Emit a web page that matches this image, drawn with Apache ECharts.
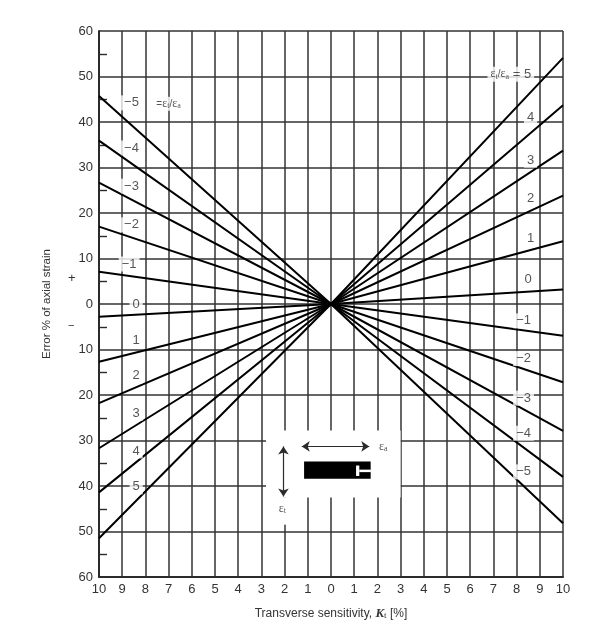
<!DOCTYPE html>
<html>
<head>
<meta charset="utf-8">
<style>html,body{margin:0;padding:0;background:#fff}#c{width:609px;height:621px;filter:blur(0.45px)}</style>
<script src="https://cdn.jsdelivr.net/npm/echarts@6/dist/echarts.min.js"></script>
</head>
<body>
<div id="c"></div>
<script>
// Strain ratio of each line, and the error read at K_t = 10 on each side.
const ratios = ['5', '4', '3', '2', '1', '0', '-1', '-2', '-3', '-4', '-5'];
const errorAtLeft = [-51.5, -41.4, -31.7, -21.8, -12.7, -2.8, 7.1, 17, 26.7, 35.9, 45.7];
const errorAtRight = [54.1, 43.7, 33.7, 23.8, 13.8, 3.2, -7, -17.2, -27.9, -38, -48.2];
const sensitivity = [-10, 0, 10];

// Ratio labels written along each side of the chart: [x, y, text]
const leftLabels = [
  [-8.6, 44.2, '−5'], [-8.6, 34.3, '−4'], [-8.6, 25.9, '−3'], [-8.6, 17.4, '−2'], [-8.7, 8.8, '−1'],
  [-8.4, -0.2, '0'], [-8.4, -8.1, '1'], [-8.4, -15.8, '2'], [-8.4, -24, '3'], [-8.4, -32.3, '4'], [-8.4, -40.2, '5']
];
const rightLabels = [
  [8.6, 40.9, '4'], [8.6, 31.6, '3'], [8.6, 23.3, '2'], [8.6, 14.5, '1'], [8.5, 5.3, '0'],
  [8.3, -3.7, '−1'], [8.3, -12, '−2'], [8.3, -20.7, '−3'], [8.3, -28.4, '−4'], [8.3, -36.9, '−5']
];
const eps = (s) => `{e|ε}{sub|${s}}`;
const ratioText = `${eps('t')}{small|/}${eps('a')}`;
const richLabels = [
  [-7.0, 44, `{small|=}${ratioText}`],
  [7.75, 50.5, `${ratioText}{n| = 5}`],
  [2.25, -31.5, eps('a')],
  [-2.1, -45.1, eps('t')]
];

// Inset: areas cleared of grid lines, gauge body, gauge slot: [x0, x1, y0, y1]
const clearedAreas = [[-2.8, 3.0, -27.8, -42.5], [-2.3, -1.8, -42.5, -48.5]];
const gaugeBody = [[-1.16, 1.71, -34.6, -38.4]];
const gaugeSlot = [[1.08, 1.22, -35.5, -37.8], [1.22, 1.72, -36.4, -36.95]];
const arrowA = [[-1.26, -31.3], [1.65, -31.3]];
const arrowT = [[-2.05, -31.3], [-2.05, -42.3]];

const ink = '#2b2b2b';
const rectSeries = (rects, color, z) => ({
  type: 'custom', z, silent: true, clip: false,
  data: rects,
  encode: { x: [0, 1], y: [2, 3] },
  renderItem: (params, api) => {
    const a = api.coord([api.value(0), api.value(2)]);
    const b = api.coord([api.value(1), api.value(3)]);
    return { type: 'rect', shape: { x: a[0], y: a[1], width: b[0] - a[0], height: b[1] - a[1] }, style: { fill: color } };
  }
});
const labelSeries = (items, fontSize, z) => ({
  type: 'scatter', z, symbolSize: 0, silent: true,
  data: items.map(d => ({ value: [d[0], d[1]], name: d[2] })),
  label: {
    show: true, position: 'inside', formatter: p => p.name,
    color: ink, fontSize, fontFamily: 'Liberation Sans', backgroundColor: '#fff', padding: [1, 3],
    rich: {
      e: { fontFamily: 'Liberation Serif', fontSize: 12, color: ink },
      sub: { fontFamily: 'Liberation Serif', fontSize: 8, color: ink, verticalAlign: 'bottom', padding: [4, 0, 0, 0] },
      small: { fontSize: 10, color: ink },
      n: { fontSize: 13, color: ink }
    }
  }
});

const chart = echarts.init(document.getElementById('c'));
chart.setOption({
  animation: false,
  backgroundColor: '#fff',
  grid: { left: 99, right: 46, top: 31, bottom: 44, outerBoundsMode: 'none' },
  xAxis: {
    type: 'value', min: -10, max: 10, interval: 1,
    name: '{a|Transverse sensitivity, }{k|K}{t|t}{a| [%]}',
    nameLocation: 'middle', nameGap: 30,
    nameTextStyle: { rich: {
      a: { fontFamily: 'Liberation Sans', fontSize: 12, color: '#333' },
      k: { fontFamily: 'Liberation Serif', fontStyle: 'italic', fontWeight: 'bold', fontSize: 13, color: '#333' },
      t: { fontFamily: 'Liberation Serif', fontSize: 9, color: '#333', verticalAlign: 'bottom', padding: [4, 0, 0, 0] }
    } },
    axisLine: { show: true, onZero: false, lineStyle: { color: ink, width: 2 } },
    axisTick: { show: false },
    axisLabel: { margin: 6, fontSize: 13, color: '#333', fontFamily: 'Liberation Sans', formatter: v => String(Math.abs(v)), hideOverlap: false },
    splitLine: { show: true, lineStyle: { color: '#333', width: 1.5 } }
  },
  yAxis: {
    type: 'value', min: -60, max: 60, interval: 10,
    name: 'Error % of axial strain',
    nameLocation: 'middle', nameGap: 46,
    nameTextStyle: { fontFamily: 'Liberation Sans', fontSize: 11.5, color: '#333' },
    axisLine: { show: true, onZero: false, lineStyle: { color: ink, width: 2 } },
    axisTick: { show: true, inside: true, length: 1, lineStyle: { color: ink } },
    minorTick: { show: true, splitNumber: 2, length: 8, lineStyle: { color: ink, width: 1.4 } },
    axisLabel: { margin: 6, fontSize: 13, color: '#333', fontFamily: 'Liberation Sans', formatter: v => String(Math.abs(v)), hideOverlap: false },
    splitLine: { show: true, lineStyle: { color: '#333', width: 1.5 } }
  },
  graphic: [
    { type: 'text', left: 68, top: 272, style: { text: '+', fontSize: 13, fontFamily: 'Liberation Sans', fill: '#333' } },
    { type: 'text', left: 68, top: 320, style: { text: '−', fontSize: 11, fontFamily: 'Liberation Sans', fill: '#333' } }
  ],
  series: [
    rectSeries(clearedAreas, '#fff', 1),
    ...ratios.map((r, i) => ({
      name: r, type: 'line', z: 3, silent: true, symbol: 'none',
      lineStyle: { color: '#000', width: 2 },
      data: [[sensitivity[0], errorAtLeft[i]], [sensitivity[1], 0], [sensitivity[2], errorAtRight[i]]]
    })),
    rectSeries(gaugeBody, '#000', 4),
    rectSeries(gaugeSlot, '#fff', 5),
    {
      type: 'line', z: 4, silent: true, data: [],
      markLine: {
        silent: true, animation: false, symbol: ['arrow', 'arrow'], symbolSize: 8,
        label: { show: false }, emphasis: { disabled: true },
        lineStyle: { color: ink, width: 1.2, type: 'solid' },
        data: [
          [{ coord: arrowA[0] }, { coord: arrowA[1] }],
          [{ coord: arrowT[0] }, { coord: arrowT[1] }]
        ]
      }
    },
    labelSeries(leftLabels, 13, 6),
    labelSeries(rightLabels, 13, 6),
    labelSeries(richLabels, 13, 6)
  ]
});
</script>
</body>
</html>
